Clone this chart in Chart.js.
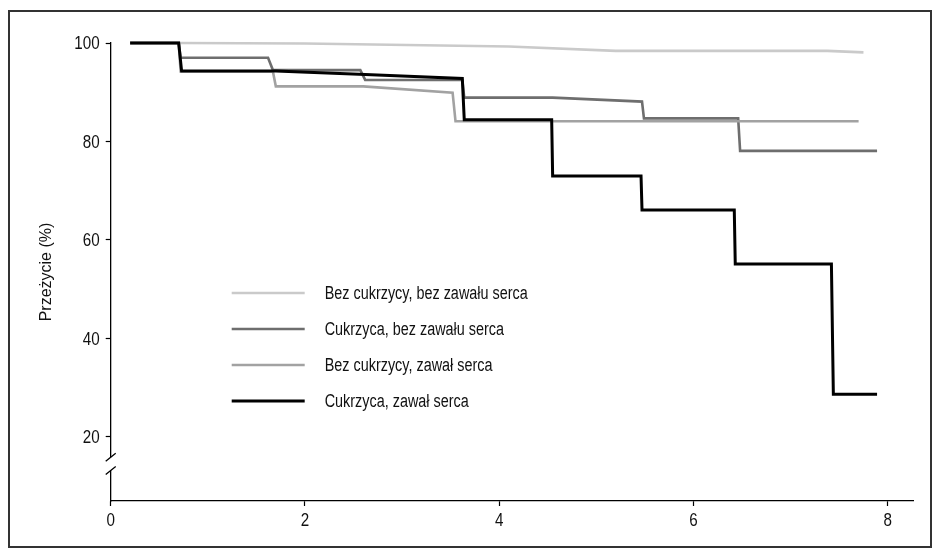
<!DOCTYPE html>
<html>
<head>
<meta charset="utf-8">
<script src="https://cdn.jsdelivr.net/npm/chart.js@4/dist/chart.umd.min.js"></script>
<style>
  html, body { margin: 0; padding: 0; background: #fff; }
</style>
</head>
<body>
<canvas id="chartKM" width="940" height="555"></canvas>
<script>
// dane (lata, przeżycie %)
const seriesLabels = [
    "Bez cukrzycy, bez zawału serca",
    "Cukrzyca, bez zawału serca",
    "Bez cukrzycy, zawał serca",
    "Cukrzyca, zawał serca",
];
const seriesColors = ["#cacaca", "#6e6e6e", "#a2a2a2", "#000000"];

const lataBezBez = [0.2, 0.7, 2.0, 3.4, 4.1, 5.2, 7.38, 7.75];
const przezBezBez = [100, 100, 99.9, 99.5, 99.3, 98.4, 98.4, 98.1];

const lataCukBez = [0.2, 0.7, 0.72, 1.62, 1.67, 2.57, 2.62, 3.62, 3.64, 4.55, 5.47, 5.49, 6.46, 6.48, 7.89];
const przezCukBez = [100, 100, 97, 97, 94.5, 94.5, 92.5, 92.5, 88.9, 88.9, 88.1, 84.7, 84.7, 78.1, 78.1];

const lataBezZaw = [0.2, 0.7, 0.72, 1.67, 1.7, 2.6, 3.52, 3.55, 7.7];
const przezBezZaw = [100, 100, 94.2, 94.2, 91.2, 91.2, 89.9, 84.1, 84.1];

const lataCukZaw = [0.2, 0.7, 0.73, 1.7, 2.62, 3.62, 3.64, 4.54, 4.55, 5.46, 5.47, 6.42, 6.43, 7.42, 7.44, 7.89];
const przezCukZaw = [100, 100, 94.3, 94.3, 93.6, 92.8, 84.4, 84.4, 73, 73, 66.1, 66.1, 55.1, 55.1, 28.7, 28.7];

const xTicks = [0, 2, 4, 6, 8];
const yTicks = [20, 40, 60, 80, 100];
const axisBreak = [13.2, 15.9]; // przerwa na osi Y

const FONT = "'Liberation Sans', Arial, sans-serif";
const NARROW = 0.8; // imitacja kroju zwężonego

function toPoints(xs, ys) {
    return xs.map(function (x, i) { return { x: x, y: ys[i] }; });
}

const allX = [lataBezBez, lataCukBez, lataBezZaw, lataCukZaw];
const allY = [przezBezBez, przezCukBez, przezBezZaw, przezCukZaw];

const datasets = seriesLabels.map(function (label, i) {
    return {
        label: label,
        data: toPoints(allX[i], allY[i]),
        borderColor: seriesColors[i],
        borderWidth: i === 3 ? 3 : 2.6,
        pointRadius: 0,
        tension: 0,
        fill: false,
        clip: false,
        order: 3 - i,
    };
});

function narrowText(ctx, text, x, y, align) {
    ctx.save();
    ctx.translate(x, y);
    ctx.scale(NARROW, 1);
    ctx.textAlign = align;
    ctx.fillText(text, 0, 0);
    ctx.restore();
}

// ramka, opisy osi, przerwa osi i legenda w polu wykresu
const extras = {
    id: "extras",
    beforeDraw(chart) {
        const ctx = chart.ctx;
        ctx.save();
        ctx.fillStyle = "#fff";
        ctx.fillRect(0, 0, chart.width, chart.height);
        ctx.restore();
    },
    afterDraw(chart) {
        const ctx = chart.ctx;
        const xs = chart.scales.x;
        const ys = chart.scales.y;
        const area = chart.chartArea;
        const ax = area.left;
        const yTop = ys.getPixelForValue(axisBreak[1]);
        const yBot = ys.getPixelForValue(axisBreak[0]);
        ctx.save();
        // frame
        ctx.strokeStyle = "#333";
        ctx.lineWidth = 2;
        ctx.strokeRect(9, 11, 922, 536);
        // break
        ctx.fillStyle = "#fff";
        ctx.fillRect(ax - 3, yTop, 6, yBot - yTop);
        ctx.strokeStyle = "#000";
        ctx.lineWidth = 1.3;
        ctx.beginPath();
        ctx.moveTo(ax - 5, yTop + 4);
        ctx.lineTo(ax + 5, yTop - 4);
        ctx.moveTo(ax - 5, yBot + 4);
        ctx.lineTo(ax + 5, yBot - 4);
        ctx.stroke();
        // tick labels
        ctx.fillStyle = "#111";
        ctx.font = "19px " + FONT;
        ctx.textBaseline = "middle";
        xTicks.forEach(function (v) {
            narrowText(ctx, String(v), xs.getPixelForValue(v), area.bottom + 20, "center");
        });
        yTicks.forEach(function (v) {
            narrowText(ctx, String(v), ax - 11, ys.getPixelForValue(v) + 1, "right");
        });
        // legend
        const lx = ax + 121;
        const ly = 293;
        ctx.font = "18px " + FONT;
        chart.data.datasets.forEach(function (ds, i) {
            const y = ly + i * 36;
            ctx.strokeStyle = ds.borderColor;
            ctx.lineWidth = ds.borderWidth;
            ctx.beginPath();
            ctx.moveTo(lx, y);
            ctx.lineTo(lx + 73, y);
            ctx.stroke();
            ctx.fillStyle = "#111";
            narrowText(ctx, ds.label, lx + 93, y + 1, "left");
        });
        ctx.restore();
    },
};

const config = {
    type: "line",
    data: { datasets: datasets },
    options: {
        responsive: false,
        animation: false,
        layout: { padding: { left: 0, top: 43, right: 27, bottom: 0 } },
        plugins: {
            legend: { display: false },
            tooltip: { enabled: false },
        },
        scales: {
            x: {
                type: "linear",
                min: 0,
                max: 8.26,
                afterBuildTicks: function (s) { s.ticks = xTicks.map(function (v) { return { value: v }; }); },
                afterFit: function (s) { s.height = 54; },
                grid: { drawOnChartArea: false, drawTicks: true, tickLength: 5, color: "#000", tickWidth: 1.2 },
                border: { display: true, color: "#000", width: 1.3 },
                ticks: { display: false },
            },
            y: {
                type: "linear",
                min: 7,
                max: 100,
                afterBuildTicks: function (s) { s.ticks = yTicks.map(function (v) { return { value: v }; }); },
                afterFit: function (s) { s.width = 110.7; },
                grid: { drawOnChartArea: false, drawTicks: true, tickLength: 5, color: "#000", tickWidth: 1.2 },
                border: { display: true, color: "#000", width: 1.3 },
                ticks: { display: false },
                title: {
                    display: true,
                    text: "Przeżycie (%)",
                    color: "#111",
                    font: { family: FONT, size: 16 },
                    padding: { top: 37, bottom: 0 },
                },
            },
        },
    },
    plugins: [extras],
};

new Chart(document.getElementById("chartKM"), config);
</script>
</body>
</html>
